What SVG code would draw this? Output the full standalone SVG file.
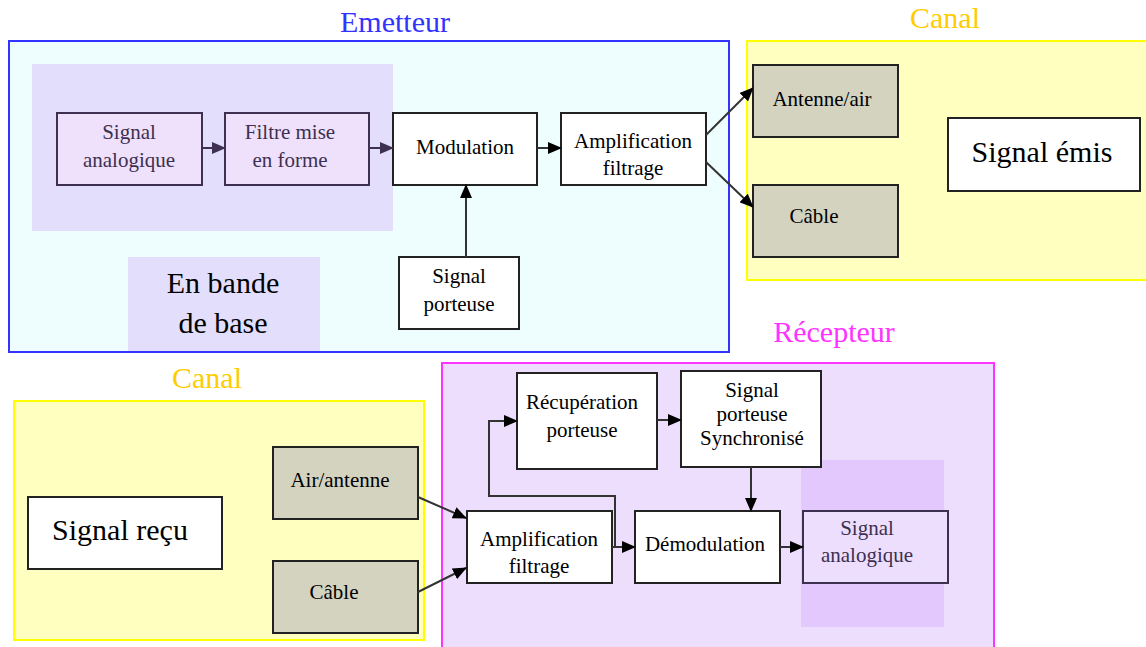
<svg xmlns="http://www.w3.org/2000/svg" width="1146" height="647" viewBox="0 0 1146 647">
<style>
text{font-family:"Liberation Serif","Times New Roman",serif;text-anchor:middle}
.t{font-size:21px;fill:#000}
.tp{font-size:21px;fill:#3d3050}
.big{font-size:30px;fill:#000}
.title{font-size:30px}
.box{fill:#fff;stroke:#222;stroke-width:2}
.gbox{fill:#d3d3c0;stroke:#222;stroke-width:2}
.pbox{fill:#efe0fc;stroke:#3d3050;stroke-width:2}
.conn{fill:none;stroke:#333;stroke-width:2}
.connp{fill:none;stroke:#3d3050;stroke-width:2}
</style>
<defs>
<marker id="ah" markerUnits="userSpaceOnUse" markerWidth="14" markerHeight="12" refX="13" refY="6" orient="auto"><path d="M0,0 L14,6 L0,12 z" fill="#000"/></marker>
<marker id="ahp" markerUnits="userSpaceOnUse" markerWidth="14" markerHeight="12" refX="13" refY="6" orient="auto"><path d="M0,0 L14,6 L0,12 z" fill="#3d3050"/></marker>
</defs>
<rect width="1146" height="647" fill="#fff"/>

<g id="emetteur">
<rect x="9" y="41" width="720" height="311" fill="#eefefe" stroke="#3333ff" stroke-width="2"/>
<text class="title" x="395" y="32" fill="#3333ff">Emetteur</text>
<rect x="32" y="64" width="361" height="167" fill="#e3defc"/>
<rect x="128" y="257" width="192" height="94" fill="#e3defc"/>
<text class="big" x="223" y="293">En bande</text>
<text class="big" x="223" y="333">de base</text>
</g>

<g id="canal-haut">
<rect x="747" y="41" width="410" height="239" fill="#ffffc0" stroke="#ffff00" stroke-width="2"/>
<text class="title" x="945" y="28" fill="#ffcc00">Canal</text>
</g>

<g id="canal-bas">
<rect x="14" y="401" width="410" height="239" fill="#ffffc0" stroke="#ffff00" stroke-width="2"/>
<text class="title" x="207" y="388" fill="#ffcc00">Canal</text>
</g>

<g id="recepteur">
<rect x="442" y="363" width="552" height="300" fill="#eedefe" stroke="#ff33ff" stroke-width="2"/>
<text class="title" x="834" y="342" fill="#ff33ff">Récepteur</text>
<rect x="801" y="460" width="143" height="167" fill="#e2c8fc"/>
</g>

<g id="signal-analogique-e">
<rect class="pbox" x="57" y="113" width="145" height="72"/>
<text class="tp" x="129" y="139">Signal</text>
<text class="tp" x="129" y="167">analogique</text>
</g>
<g id="filtre">
<rect class="pbox" x="225" y="113" width="144" height="72"/>
<text class="tp" x="290" y="139">Filtre mise</text>
<text class="tp" x="290" y="167">en forme</text>
</g>
<g id="modulation">
<rect class="box" x="393" y="113" width="144" height="72"/>
<text class="t" x="465" y="154">Modulation</text>
</g>
<g id="ampli-e">
<rect class="box" x="561" y="113" width="145" height="72"/>
<text class="t" x="633" y="148">Amplification</text>
<text class="t" x="633" y="175">filtrage</text>
</g>
<g id="porteuse-e">
<rect class="box" x="399" y="257" width="120" height="72"/>
<text class="t" x="459" y="283">Signal</text>
<text class="t" x="459" y="311">porteuse</text>
</g>
<g id="antenne-air">
<rect class="gbox" x="753" y="65" width="145" height="72"/>
<text class="t" x="822" y="106">Antenne/air</text>
</g>
<g id="cable-haut">
<rect class="gbox" x="753" y="185" width="145" height="72"/>
<text class="t" x="814" y="223">Câble</text>
</g>
<g id="signal-emis">
<rect class="box" x="948" y="118" width="192" height="73"/>
<text class="big" x="1042" y="162">Signal émis</text>
</g>
<g id="signal-recu">
<rect class="box" x="28" y="497" width="194" height="72"/>
<text class="big" x="120" y="540">Signal reçu</text>
</g>
<g id="air-antenne">
<rect class="gbox" x="273" y="447" width="145" height="72"/>
<text class="t" x="340" y="487">Air/antenne</text>
</g>
<g id="cable-bas">
<rect class="gbox" x="273" y="561" width="145" height="72"/>
<text class="t" x="334" y="599">Câble</text>
</g>
<g id="ampli-r">
<rect class="box" x="467" y="511" width="145" height="72"/>
<text class="t" x="539" y="546">Amplification</text>
<text class="t" x="539" y="573">filtrage</text>
</g>
<g id="recuperation">
<rect class="box" x="517" y="373" width="140" height="96"/>
<text class="t" x="582" y="409">Récupération</text>
<text class="t" x="582" y="437">porteuse</text>
</g>
<g id="porteuse-sync">
<rect class="box" x="681" y="371" width="140" height="96"/>
<text class="t" x="752" y="397">Signal</text>
<text class="t" x="752" y="421">porteuse</text>
<text class="t" x="752" y="445">Synchronisé</text>
</g>
<g id="demodulation">
<rect class="box" x="635" y="511" width="145" height="72"/>
<text class="t" x="705" y="551">Démodulation</text>
</g>
<g id="signal-analogique-r">
<rect class="pbox" x="803" y="511" width="145" height="72" style="fill:#eedefe"/>
<text class="tp" x="867" y="535">Signal</text>
<text class="tp" x="867" y="562">analogique</text>
</g>

<g id="connectors">
<line class="connp" x1="202" y1="148" x2="225" y2="148" marker-end="url(#ahp)"/>
<line class="connp" x1="369" y1="148" x2="393" y2="148" marker-end="url(#ahp)"/>
<line class="conn" x1="537" y1="148" x2="561" y2="148" marker-end="url(#ah)"/>
<line class="conn" x1="466" y1="257" x2="466" y2="185" marker-end="url(#ah)"/>
<line class="conn" x1="706" y1="135" x2="753" y2="88" marker-end="url(#ah)"/>
<line class="conn" x1="706" y1="162" x2="753" y2="207" marker-end="url(#ah)"/>
<line class="conn" x1="418" y1="497" x2="466" y2="518" marker-end="url(#ah)"/>
<line class="conn" x1="418" y1="592" x2="466" y2="568" marker-end="url(#ah)"/>
<line class="conn" x1="612" y1="547" x2="635" y2="547" marker-end="url(#ah)"/>
<path class="conn" d="M615,547 V496 H489 V421 H517" marker-end="url(#ah)"/>
<line class="conn" x1="657" y1="420" x2="681" y2="420" marker-end="url(#ah)"/>
<line class="conn" x1="751" y1="467" x2="751" y2="511" marker-end="url(#ah)"/>
<line class="conn" x1="780" y1="547" x2="803" y2="547" marker-end="url(#ah)"/>
</g>
</svg>
